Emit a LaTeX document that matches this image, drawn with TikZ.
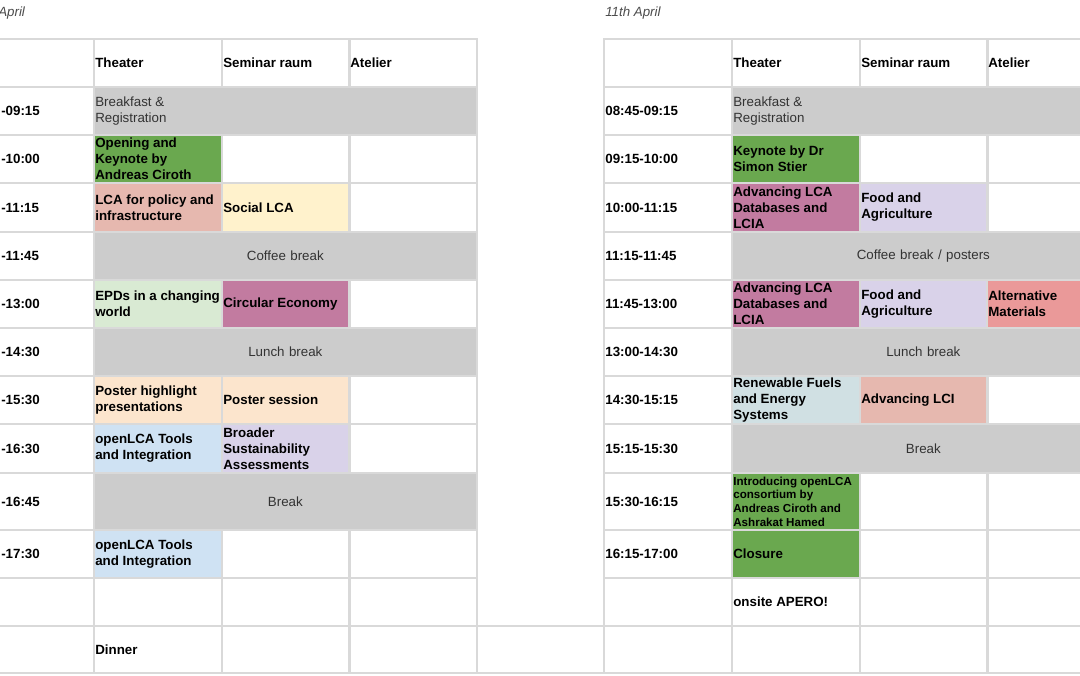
\documentclass[tikz,border=0pt]{standalone}
\usepackage{fontspec}
\setmainfont{Liberation Sans}
\definecolor{gridline}{HTML}{D9D9D9}
\definecolor{breakgray}{HTML}{CCCCCC}
\definecolor{keygreen}{HTML}{6AA84F}
\definecolor{policyred}{HTML}{E6B8AF}
\definecolor{socialyellow}{HTML}{FFF2CC}
\definecolor{epdgreen}{HTML}{D9EAD3}
\definecolor{circpurple}{HTML}{C27BA0}
\definecolor{posterpeach}{HTML}{FCE5CD}
\definecolor{toolsblue}{HTML}{CFE2F3}
\definecolor{broadlilac}{HTML}{D9D2E9}
\definecolor{altred}{HTML}{EA9999}
\definecolor{fuelblue}{HTML}{D0E0E3}
\begin{document}
\begin{tikzpicture}[x=0.75pt, y=-0.75pt,
  box/.style={draw=gridline, line width=1.5pt, anchor=north west, inner xsep=1pt, inner ysep=0pt,
    text width=94pt, align=flush left, minimum height=36pt, font=\bfseries\fontsize{10}{12}\selectfont},
  wide/.style={box, fill=breakgray, text width=285pt, align=center, font=\fontsize{10}{12}\selectfont, text=black!80},
  tall/.style={minimum height=42.75pt},
  small/.style={font=\bfseries\fontsize{8.7}{10.3}\selectfont},
  frag/.style={anchor=west, inner sep=0pt, font=\bfseries\fontsize{10}{12}\selectfont},
  day/.style={anchor=west, inner sep=0pt, font=\itshape\fontsize{10}{12}\selectfont, text=black!70}]
\useasboundingbox (0,0) rectangle (1080,675);
\clip (0,0) rectangle (1080,675);
\coordinate (edge) at (0,0);

\node[day] (lday) at (-2,13) {April};
\node[day] (rday) at (605,13) {11th April};

\node[box] (lhead) at (-35,38) {};
\node[box] (ltheater) at (93,38) {Theater};
\node[box] (lseminar) at (221,38) {Seminar raum};
\node[box] (latelier) at (348,38) {Atelier};
\foreach \y/\h/\t [count=\i] in {86/36/-09:15, 134/36/-10:00, 182/36.75/-11:15, 231/36/-11:45,
    279/36/-13:00, 327/36/-14:30, 375/36/-15:30, 423/36.75/-16:30, 472/42.75/-16:45, 529/36/-17:30}
  {\node[box, minimum height=\h pt] (lt\i) at (-35,\y) {};
   \node[frag] (lf\i) at ([xshift=0.75pt]edge |- lt\i) {\t};}
\node[box] (lt11) at (-35,577) {};
\node[box, minimum height=35.25pt] (lt12) at (-35,625) {};

\node[wide, align=flush left] (lbreakfast) at (93,86) {Breakfast \&\\Registration};
\node[box, fill=keygreen] (lopen) at (93,134) {Opening and\\Keynote by\\Andreas Ciroth};
\node[box] (ls2) at (221,134) {};
\node[box] (la2) at (348,134) {};
\node[box, fill=policyred, minimum height=36.75pt] (lpolicy) at (93,182) {LCA for policy and\\infrastructure};
\node[box, fill=socialyellow, minimum height=36.75pt] (lsocial) at (221,182) {Social LCA};
\node[box, minimum height=36.75pt] (la3) at (348,182) {};
\node[wide] (lcoffee) at (93,231) {Coffee break};
\node[box, fill=epdgreen] (lepd) at (93,279) {EPDs in a changing\\world};
\node[box, fill=circpurple] (lcirc) at (221,279) {Circular Economy};
\node[box] (la5) at (348,279) {};
\node[wide] (llunch) at (93,327) {Lunch break};
\node[box, fill=posterpeach] (lhigh) at (93,375) {Poster highlight\\presentations};
\node[box, fill=posterpeach] (lposter) at (221,375) {Poster session};
\node[box] (la7) at (348,375) {};
\node[box, fill=toolsblue, minimum height=36.75pt] (ltools) at (93,423) {openLCA Tools\\and Integration};
\node[box, fill=broadlilac, minimum height=36.75pt] (lbroad) at (221,423) {Broader\\Sustainability\\Assessments};
\node[box, minimum height=36.75pt] (la8) at (348,423) {};
\node[wide, tall] (lbreak) at (93,472) {Break};
\node[box, fill=toolsblue] (ltools2) at (93,529) {openLCA Tools\\and Integration};
\node[box] (ls10) at (221,529) {};
\node[box] (la10) at (348,529) {};
\node[box] (lth11) at (93,577) {};
\node[box] (ls11) at (221,577) {};
\node[box] (la11) at (348,577) {};
\node[box, minimum height=35.25pt] (ldinner) at (93,625) {Dinner};
\node[box, minimum height=35.25pt] (ls12) at (221,625) {};
\node[box, minimum height=35.25pt] (la12) at (348,625) {};
\node[box, minimum height=35.25pt, text width=93pt] (gap) at (476,625) {};

\node[box] (rhead) at (603,38) {};
\node[box] (rtheater) at (731,38) {Theater};
\node[box] (rseminar) at (859,38) {Seminar raum};
\node[box] (ratelier) at (986,38) {Atelier};
\foreach \y/\h/\t [count=\i] in {86/36/08:45-09:15, 134/36/09:15-10:00, 182/36.75/10:00-11:15, 231/36/11:15-11:45,
    279/36/11:45-13:00, 327/36/13:00-14:30, 375/36/14:30-15:15, 423/36.75/15:15-15:30, 472/42.75/15:30-16:15,
    529/36/16:15-17:00}
  \node[box, minimum height=\h pt] (rt\i) at (603,\y) {\t};
\node[box] (rt11) at (603,577) {};
\node[box, minimum height=35.25pt] (rt12) at (603,625) {};

\node[wide, align=flush left] (rbreakfast) at (731,86) {Breakfast \&\\Registration};
\node[box, fill=keygreen] (rkey) at (731,134) {Keynote by Dr\\Simon Stier};
\node[box] (rs2) at (859,134) {};
\node[box] (ra2) at (986,134) {};
\node[box, fill=circpurple, minimum height=36.75pt] (rdata) at (731,182) {Advancing LCA\\Databases and\\LCIA};
\node[box, fill=broadlilac, minimum height=36.75pt] (rfood) at (859,182) {Food and\\Agriculture};
\node[box, minimum height=36.75pt] (ra3) at (986,182) {};
\node[wide] (rcoffee) at (731,231) {Coffee break / posters};
\node[box, fill=circpurple] (rdata2) at (731,279) {Advancing LCA\\Databases and\\LCIA};
\node[box, fill=broadlilac] (rfood2) at (859,279) {Food and\\Agriculture};
\node[box, fill=altred] (ralt) at (986,279) {Alternative\\Materials};
\node[wide] (rlunch) at (731,327) {Lunch break};
\node[box, fill=fuelblue] (rfuel) at (731,375) {Renewable Fuels\\and Energy\\Systems};
\node[box, fill=policyred] (rlci) at (859,375) {Advancing LCI};
\node[box] (ra7) at (986,375) {};
\node[wide, minimum height=36.75pt] (rbreak) at (731,423) {Break};
\node[box, fill=keygreen, tall, small] (rintro) at (731,472) {Introducing openLCA\\consortium by\\Andreas Ciroth and\\Ashrakat Hamed};
\node[box, tall] (rs9) at (859,472) {};
\node[box, tall] (ra9) at (986,472) {};
\node[box, fill=keygreen] (rclose) at (731,529) {Closure};
\node[box] (rs10) at (859,529) {};
\node[box] (ra10) at (986,529) {};
\node[box] (rapero) at (731,577) {onsite APERO!};
\node[box] (rs11) at (859,577) {};
\node[box] (ra11) at (986,577) {};
\node[box, minimum height=35.25pt] (rth12) at (731,625) {};
\node[box, minimum height=35.25pt] (rs12) at (859,625) {};
\node[box, minimum height=35.25pt] (ra12) at (986,625) {};
\end{tikzpicture}
\end{document}
